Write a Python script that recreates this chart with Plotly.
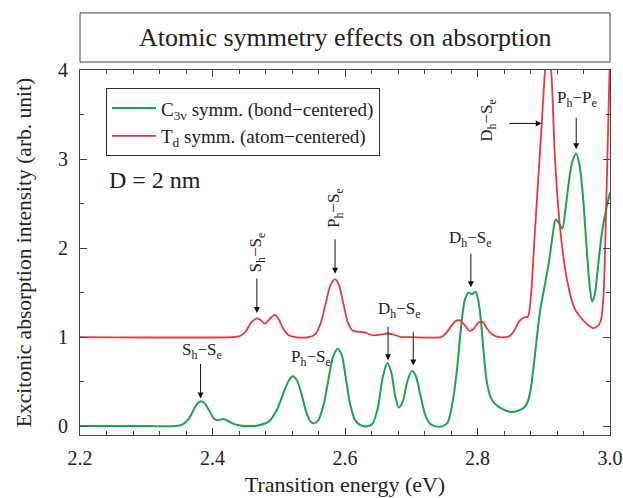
import plotly.graph_objects as go

# ---------------- data ----------------
green_E = [2.200, 2.300, 2.345, 2.355, 2.365, 2.372, 2.378, 2.383, 2.389, 2.396,
           2.403, 2.409, 2.416, 2.423, 2.430, 2.440, 2.455, 2.470, 2.485, 2.497,
           2.508, 2.515, 2.521, 2.527, 2.534, 2.541, 2.548, 2.553, 2.560, 2.568,
           2.575, 2.582, 2.589, 2.595, 2.601, 2.608, 2.615, 2.623, 2.635, 2.642,
           2.650, 2.657, 2.664, 2.670, 2.676, 2.681, 2.687, 2.694, 2.701, 2.707,
           2.714, 2.721, 2.728, 2.736, 2.748, 2.755, 2.762, 2.769, 2.775, 2.781,
           2.787, 2.792, 2.797, 2.801, 2.805, 2.809, 2.814, 2.820, 2.828, 2.838,
           2.849, 2.860, 2.869, 2.875, 2.880, 2.887, 2.894, 2.902, 2.908, 2.913,
           2.918, 2.923, 2.928, 2.933, 2.938, 2.943, 2.949, 2.954, 2.959, 2.964,
           2.969, 2.973, 2.977, 2.982, 2.988, 2.994, 3.000]
green_I = [0.00, 0.00, 0.00, 0.02, 0.09, 0.19, 0.26, 0.28, 0.25, 0.16,
           0.08, 0.065, 0.08, 0.06, 0.03, 0.01, 0.00, 0.01, 0.05, 0.18,
           0.39, 0.51, 0.56, 0.52, 0.37, 0.17, 0.05, 0.03, 0.07, 0.25,
           0.52, 0.78, 0.87, 0.80, 0.55, 0.24, 0.07, 0.01, 0.00, 0.03,
           0.22, 0.55, 0.71, 0.60, 0.33, 0.21, 0.27, 0.50, 0.62, 0.56,
           0.34, 0.13, 0.03, 0.00, 0.00, 0.04, 0.25, 0.63, 1.10, 1.42,
           1.50, 1.48, 1.51, 1.42, 1.20, 0.85, 0.50, 0.32, 0.24, 0.19,
           0.16, 0.17, 0.20, 0.26, 0.40, 0.82, 1.27, 1.60, 1.85, 2.12,
           2.32, 2.28, 2.22, 2.45, 2.75, 2.97, 3.06, 2.93, 2.60, 2.08,
           1.60, 1.40, 1.48, 1.80, 2.18, 2.43, 2.62]

red_E = [2.200, 2.430, 2.441, 2.450, 2.458, 2.467, 2.473, 2.479, 2.486, 2.494,
         2.500, 2.507, 2.515, 2.525, 2.545, 2.555, 2.563, 2.571, 2.578, 2.585,
         2.591, 2.598, 2.605, 2.612, 2.620, 2.630, 2.642, 2.655, 2.663, 2.672,
         2.685, 2.700, 2.745, 2.752, 2.760, 2.767, 2.773, 2.780, 2.788, 2.794,
         2.801, 2.808, 2.814, 2.822, 2.833, 2.848, 2.856, 2.863, 2.870, 2.876,
         2.881, 2.886, 2.891, 2.897, 2.902, 2.907, 2.912, 2.917, 2.925, 2.935,
         2.946, 2.958, 2.968, 2.974, 2.981, 2.986, 2.990, 2.994, 2.997, 3.000]
red_I = [1.00, 1.00, 1.01, 1.06, 1.16, 1.21, 1.19, 1.15, 1.20, 1.25,
         1.20, 1.09, 1.02, 1.00, 1.00, 1.03, 1.15, 1.38, 1.58, 1.65,
         1.58, 1.36, 1.15, 1.07, 1.06, 1.05, 1.02, 1.03, 1.04, 1.03,
         1.00, 1.00, 1.00, 1.04, 1.12, 1.18, 1.19, 1.14, 1.07, 1.09,
         1.16, 1.17, 1.10, 1.03, 1.00, 1.01, 1.08, 1.18, 1.22, 1.23,
         1.50, 2.10, 2.70, 3.40, 4.00, 4.35, 3.90, 3.00, 2.20, 1.65,
         1.33, 1.20, 1.13, 1.10, 1.12, 1.18, 1.45, 2.40, 3.30, 4.20]

series_names = ["C<sub>3v</sub> symm. (bond\u2212centered)",
                "T<sub>d</sub> symm. (atom\u2212centered)"]
x_ticks = [2.2, 2.4, 2.6, 2.8, 3.0]
y_ticks = [0, 1, 2, 3, 4]

GREEN = "#1fa150"
RED = "#e23a42"
FONT = "Liberation Serif"
INK = "#222222"

fig = go.Figure()
fig.add_trace(go.Scatter(x=green_E, y=green_I, mode="lines", name=series_names[0],
                         line=dict(color=GREEN, width=2, shape="spline", smoothing=0.8)))
fig.add_trace(go.Scatter(x=red_E, y=red_I, mode="lines", name=series_names[1],
                         line=dict(color=RED, width=1.8, shape="spline", smoothing=0.8)))

axis_common = dict(showline=True, linecolor="#444444", linewidth=1, mirror="allticks",
                   ticks="inside", ticklen=7, tickcolor="#444444", showgrid=False,
                   zeroline=False, automargin=False,
                   tickfont=dict(family=FONT, size=20, color=INK))
fig.update_xaxes(range=[2.2, 3.0], tickvals=x_ticks, tickformat=".1f", ticklabelstandoff=5,
                 minor=dict(dtick=0.04, ticks="inside", ticklen=4, tickcolor="#444444"),
                 title=dict(text="Transition energy (eV)", font=dict(family=FONT, size=22, color=INK),
                            standoff=8),
                 **axis_common)
fig.update_yaxes(range=[-0.1, 4.0], tickvals=y_ticks, ticklabelstandoff=7,
                 minor=dict(dtick=0.5, ticks="inside", ticklen=4, tickcolor="#444444"),
                 title=dict(text="Excitonic absorption intensity (arb. unit)",
                            font=dict(family=FONT, size=21.5, color=INK), standoff=20),
                 **axis_common)

ann_font = dict(family=FONT, size=17, color=INK)
anns = []
def text(x, y, t, angle=0):
    anns.append(dict(x=x, y=y, xref="x", yref="y", text=t, showarrow=False,
                     textangle=angle, font=ann_font))
def arrow(x, y, ax, ay):
    anns.append(dict(x=x, y=y, xref="x", yref="y", text="", showarrow=True,
                     ax=ax, ay=ay, arrowhead=2, arrowsize=1.2, arrowwidth=1,
                     arrowcolor="#111111"))

SS = "S<sub>h</sub>\u2212S<sub>e</sub>"
PS = "P<sub>h</sub>\u2212S<sub>e</sub>"
DS = "D<sub>h</sub>\u2212S<sub>e</sub>"
PP = "P<sub>h</sub>\u2212P<sub>e</sub>"

text(2.384, 0.84, SS); arrow(2.382, 0.31, 0, -36)
text(2.549, 0.77, PS)
text(2.467, 1.95, SS, -90); arrow(2.467, 1.27, 0, -36)
text(2.585, 2.45, PS, -90); arrow(2.585, 1.71, 0, -36)
text(2.682, 1.30, DS); arrow(2.665, 0.74, 0, -35); arrow(2.703, 0.68, 0, -35)
text(2.790, 2.10, DS); arrow(2.790, 1.56, 0, -35)
text(2.816, 3.43, DS, -90); arrow(2.897, 3.40, -34, 0)
text(2.950, 3.67, PP); arrow(2.949, 3.11, 0, -33)

anns.append(dict(x=0.05, y=2.76, xref="paper", yref="y", xanchor="left",
                 text="D = 2 nm", showarrow=False, font=dict(family=FONT, size=24, color=INK)))
anns.append(dict(x=0.5, y=1.088, xref="paper", yref="paper", yanchor="middle",
                 text="Atomic symmetry effects on absorption", showarrow=False,
                 font=dict(family=FONT, size=26, color=INK)))

fig.update_layout(
    width=623, height=498, margin=dict(l=80, r=13, t=70, b=63),
    paper_bgcolor="white", plot_bgcolor="white",
    annotations=anns,
    shapes=[dict(type="rect", xref="paper", yref="paper", x0=0, x1=1, y0=1.0219, y1=1.1563,
                 line=dict(color="#444444", width=1))],
    legend=dict(x=0.049, y=0.95, xanchor="left", yanchor="top", bgcolor="white",
                bordercolor="#333333", borderwidth=1, itemwidth=44,
                font=dict(family=FONT, size=19, color=INK)),
)

fig.write_html("out.html")
